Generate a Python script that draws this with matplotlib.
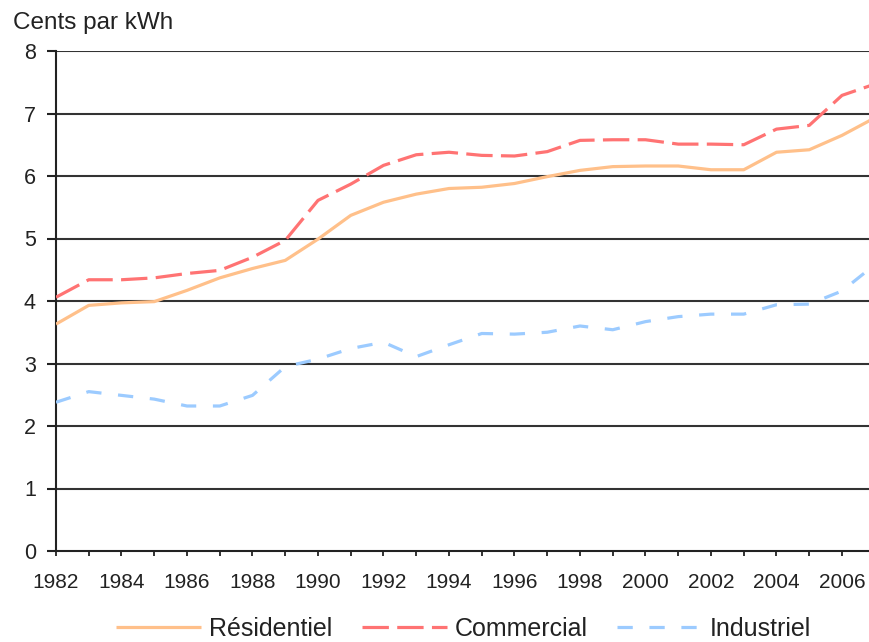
"""
Prix moyen de l'électricité par secteur, 1982-2007 (cents par kWh)
"""
import matplotlib
import matplotlib.pyplot as plt
from matplotlib.ticker import MultipleLocator

matplotlib.use("Agg")

# Data
years = list(range(1982, 2008))
residentiel = [3.63, 3.93, 3.97, 3.99, 4.17, 4.37, 4.52, 4.65, 4.99, 5.37, 5.58, 5.71, 5.80,
               5.82, 5.88, 5.99, 6.09, 6.15, 6.16, 6.16, 6.10, 6.10, 6.38, 6.42, 6.65, 6.93]
commercial = [4.06, 4.34, 4.34, 4.37, 4.44, 4.49, 4.70, 4.97, 5.61, 5.87, 6.17, 6.34, 6.38,
              6.33, 6.32, 6.39, 6.57, 6.58, 6.58, 6.51, 6.51, 6.50, 6.75, 6.81, 7.29, 7.47]
industriel = [2.38, 2.55, 2.49, 2.43, 2.32, 2.32, 2.49, 2.95, 3.07, 3.24, 3.34, 3.11, 3.30,
              3.48, 3.47, 3.50, 3.60, 3.54, 3.67, 3.75, 3.79, 3.79, 3.94, 3.95, 4.16, 4.58]
series_labels = ["Résidentiel", "Commercial", "Industriel"]
y_ticks = list(range(0, 9))

plt.rcParams["font.family"] = ["Liberation Sans", "DejaVu Sans"]
plt.rcParams["lines.scale_dashes"] = False

fig = plt.figure(figsize=(8.7, 6.42), dpi=100)
# axes placed by pixel: 1982 at x=56, y=0 at 551, y=8 at 51
ax = fig.add_axes([56 / 870, 91 / 642, 818.75 / 870, 500 / 642])

ax.plot(years, residentiel, color="#FFC08A", lw=2.3, label=series_labels[0],
        solid_capstyle="butt", zorder=3)
ax.plot(years, commercial, color="#FF7373", lw=2.3, label=series_labels[1],
        dashes=(19, 6), dash_capstyle="butt", zorder=3)
ax.plot(years, industriel, color="#9CCBFF", lw=2.3, label=series_labels[2],
        dashes=(11, 12), dash_capstyle="butt", zorder=3)

ax.set_xlim(1982, 2007)
ax.set_ylim(0, 8)
ax.set_yticks(y_ticks)
ax.xaxis.set_major_locator(MultipleLocator(2))
ax.xaxis.set_minor_locator(MultipleLocator(1))

for yv in y_ticks[1:]:
    ax.axhline(yv, color="#333333", lw=1.5, zorder=1)

for side in ("top", "right"):
    ax.spines[side].set_visible(False)
for side in ("left", "bottom"):
    ax.spines[side].set_color("#222222")
    ax.spines[side].set_linewidth(1.5)

ax.tick_params(axis="y", direction="out", length=6.5, width=1.5, color="#222222",
               pad=8, labelsize=15.5, labelcolor="#222222")
ax.tick_params(axis="x", which="both", direction="out", length=3.6, width=1.3,
               color="#222222", pad=12, labelsize=15, labelcolor="#222222")

fig.text(13 / 870, 1 - 29 / 642, "Cents par kWh", fontsize=17.5, color="#222222",
         va="baseline", ha="left")

leg = fig.legend(loc="center", bbox_to_anchor=(0.533, 0.021), ncol=3, frameon=False,
                 fontsize=18, handlelength=3.4, handletextpad=0.3, columnspacing=1.2)
for txt in leg.get_texts():
    txt.set_color("#222222")

fig.savefig("out.png", dpi=100)
plt.close(fig)
